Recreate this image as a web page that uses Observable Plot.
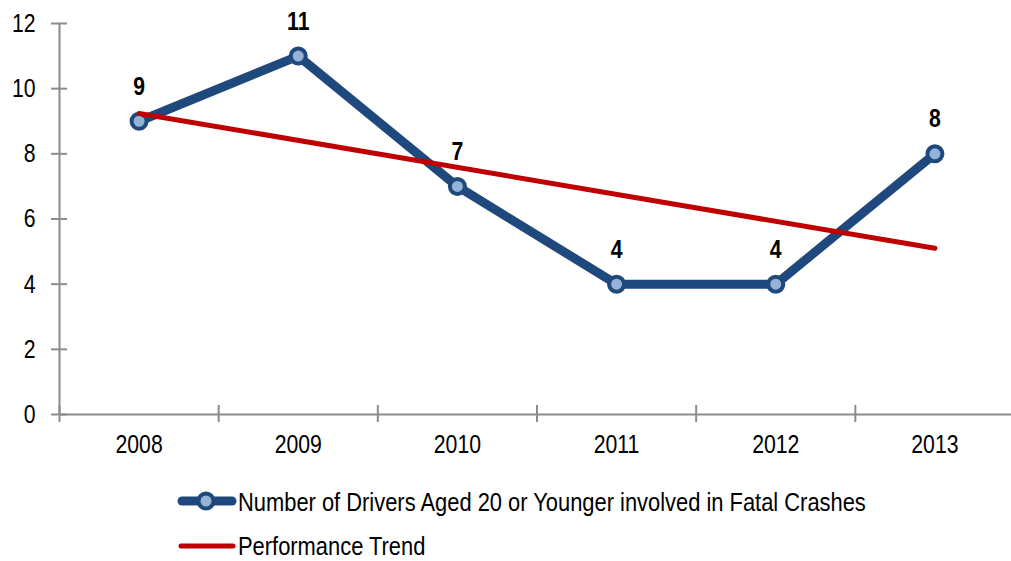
<!DOCTYPE html>
<html>
<head>
<meta charset="utf-8">
<script src="https://cdn.jsdelivr.net/npm/d3@7"></script>
<script src="https://cdn.jsdelivr.net/npm/@observablehq/plot@0.6"></script>
<style>
  html, body { margin: 0; padding: 0; background: #fff; }
  #wrap { position: relative; width: 1011px; height: 561px; font-family: "Liberation Sans", Arial, sans-serif; }
</style>
</head>
<body>
<div id="wrap"></div>
<script>
// Data
const years = [2008, 2009, 2010, 2011, 2012, 2013];
const drivers = [9, 11, 7, 4, 4, 8];
const trendYears = [2008, 2013];
const trendValues = [9.24, 5.1];
const yTicks = [0, 2, 4, 6, 8, 10, 12];
const seriesNames = ["Number of Drivers Aged 20 or Younger involved in Fatal Crashes", "Performance Trend"];

const blue = "#1F497D", light = "#95B3D7", red = "#C00000", gray = "#8C8C8C";
const font = "'Liberation Sans', Arial, sans-serif";
const fs = 26.5;
const data = years.map((y, i) => ({year: y, value: drivers[i]}));
const trend = trendYears.map((y, i) => ({year: y, value: trendValues[i]}));
const bounds = [...years.map(y => y - 0.5), years[years.length - 1] + 0.5];

const chart = Plot.plot({
  width: 1011,
  height: 470,
  marginLeft: 59,
  marginRight: -3,
  marginTop: 23,
  marginBottom: 56,
  style: {fontFamily: font, background: "white", overflow: "visible"},
  x: {type: "linear", domain: [bounds[0], bounds[bounds.length - 1]], axis: null},
  y: {domain: [0, 12], axis: null},
  marks: [
    // y axis line + crossing ticks
    Plot.ruleX([bounds[0]], {y1: 0, y2: 12, stroke: gray, strokeWidth: 2}),
    Plot.axisY({ticks: yTicks, tickSize: 16, dx: 8, label: null, tickFormat: () => "", stroke: gray, strokeWidth: 2, strokeOpacity: 1}),
    Plot.axisY({ticks: yTicks, tickSize: 0, tickPadding: 24, label: null, fontSize: fs, fill: "#000", tickFormat: d => String(d)}),
    // x axis line + crossing ticks
    Plot.ruleY([0], {stroke: gray, strokeWidth: 2}),
    Plot.axisX({ticks: bounds, tickSize: 17, dy: -9, label: null, tickFormat: () => "", stroke: gray, strokeWidth: 2, strokeOpacity: 1}),
    Plot.axisX({ticks: years, tickSize: 0, tickPadding: 20, label: null, fontSize: fs, fill: "#000", tickFormat: d => String(d)}),
    // series
    Plot.line(data, {x: "year", y: "value", stroke: blue, strokeWidth: 9, strokeLinejoin: "round"}),
    Plot.dot(data, {x: "year", y: "value", r: 7.5, fill: light, stroke: blue, strokeWidth: 4}),
    Plot.line(trend, {x: "year", y: "value", stroke: red, strokeWidth: 5, strokeLinecap: "round"}),
    Plot.text(data, {x: "year", y: "value", text: d => String(d.value), dy: -35, fontSize: fs, fontWeight: "bold", fill: "#000"})
  ]
});

const wrap = document.getElementById("wrap");
wrap.appendChild(chart);

// Legend drawn as SVG below the plot
const leg = d3.select(wrap).append("svg")
  .attr("width", 1011).attr("height", 91)
  .style("position", "absolute").style("left", "0px").style("top", "470px")
  .style("font-family", font);
const r1 = leg.append("g").attr("transform", "translate(0,31)");
r1.append("line").attr("x1", 182).attr("x2", 232).attr("y1", 0).attr("y2", 0)
  .attr("stroke", blue).attr("stroke-width", 9).attr("stroke-linecap", "round");
r1.append("circle").attr("cx", 206).attr("cy", 0).attr("r", 7.5)
  .attr("fill", light).attr("stroke", blue).attr("stroke-width", 4);
r1.append("text").attr("x", 238).attr("y", 0).attr("dy", "0.36em").attr("font-size", fs).attr("class", "legtext").text(seriesNames[0]);
const r2 = leg.append("g").attr("transform", "translate(0,76)");
r2.append("line").attr("x1", 181).attr("x2", 233).attr("y1", 0).attr("y2", 0)
  .attr("stroke", red).attr("stroke-width", 5).attr("stroke-linecap", "round");
r2.append("text").attr("x", 238).attr("y", 0).attr("dy", "0.34em").attr("font-size", fs).attr("class", "legtext").text(seriesNames[1]);

// Narrow the Arial-like glyphs to mimic Arial Narrow
document.querySelectorAll("#wrap svg text").forEach(t => {
  const len = t.getComputedTextLength();
  if (len > 0) {
    const k = t.classList.contains("legtext") ? 0.826 : 0.8;
    t.setAttribute("lengthAdjust", "spacingAndGlyphs");
    t.setAttribute("textLength", (len * k).toFixed(1));
  }
});
</script>
</body>
</html>
